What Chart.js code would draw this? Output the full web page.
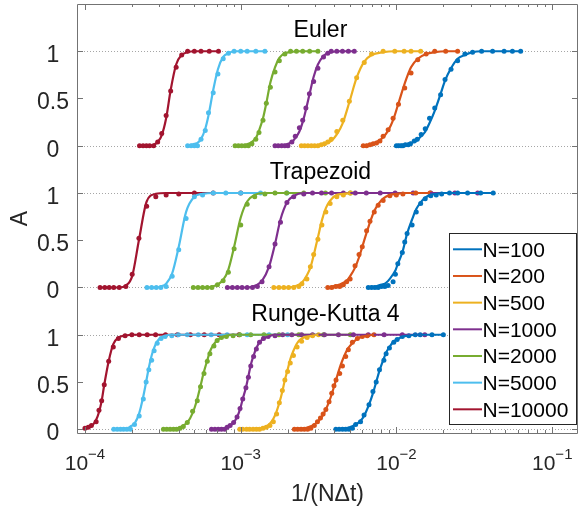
<!DOCTYPE html>
<html>
<head>
<meta charset="utf-8">
<script src="https://cdn.jsdelivr.net/npm/chart.js@4.4.0/dist/chart.umd.min.js"></script>
<style>
  html, body { margin: 0; padding: 0; background: #fff; }
</style>
</head>
<body>
<canvas id="chart" width="581" height="512"></canvas>
<script>
// series order: N=100 ... N=10000
const seriesLabels = ['N=100', 'N=200', 'N=500', 'N=1000', 'N=2000', 'N=5000', 'N=10000'];
const seriesColors = ['#0072BD', '#D95319', '#EDB120', '#7E2F8E', '#77AC30', '#4DBEEE', '#A2142F'];

const panelTitles = ['Euler', 'Trapezoid', 'Runge-Kutta 4'];
const yTickLabels = ['0', '0.5', '1'];
const xDecades = [-4, -3, -2, -1];

// Euler: x = 1/(N dt); *A = markers, *Line = fitted curve at the same x
const eulerX = [
    [9.98e-3, 1.03e-2, 1.07e-2, 1.10e-2, 1.14e-2, 1.19e-2, 1.23e-2, 1.30e-2, 1.36e-2, 1.44e-2, 1.53e-2, 1.63e-2, 1.76e-2, 1.92e-2, 2.05e-2, 2.24e-2, 2.47e-2, 2.75e-2, 3.08e-2, 3.52e-2, 4.14e-2, 4.91e-2, 5.55e-2, 6.27e-2],
    [6.12e-3, 6.43e-3, 6.76e-3, 7.09e-3, 7.44e-3, 7.83e-3, 8.21e-3, 8.84e-3, 9.51e-3, 1.03e-2, 1.13e-2, 1.24e-2, 1.37e-2, 1.55e-2, 1.76e-2, 2.07e-2, 2.47e-2],
    [2.45e-3, 2.57e-3, 2.70e-3, 2.84e-3, 2.98e-3, 3.13e-3, 3.29e-3, 3.45e-3, 3.62e-3, 3.81e-3, 4.14e-3, 4.52e-3, 4.98e-3, 5.55e-3, 6.21e-3, 6.92e-3, 8.21e-3, 9.75e-3, 1.12e-2, 1.24e-2, 1.43e-2],
    [1.66e-3, 1.74e-3, 1.83e-3, 1.92e-3, 2.01e-3, 2.13e-3, 2.24e-3, 2.38e-3, 2.50e-3, 2.62e-3, 2.76e-3, 2.94e-3, 3.13e-3, 3.40e-3, 3.62e-3, 3.81e-3, 4.14e-3, 4.50e-3, 4.91e-3, 5.36e-3],
    [9.2e-4, 9.66e-4, 1.015e-3, 1.065e-3, 1.12e-3, 1.18e-3, 1.25e-3, 1.31e-3, 1.39e-3, 1.46e-3, 1.55e-3, 1.66e-3, 1.77e-3, 1.92e-3, 2.09e-3, 2.28e-3, 2.50e-3, 2.77e-3, 3.13e-3],
    [4.56e-4, 4.8e-4, 5.04e-4, 5.28e-4, 5.56e-4, 5.92e-4, 6.21e-4, 6.66e-4, 7.14e-4, 7.72e-4, 8.34e-4, 9.07e-4, 1.0e-3, 1.1e-3, 1.25e-3, 1.43e-3],
    [2.24e-4, 2.36e-4, 2.48e-4, 2.6e-4, 2.76e-4, 2.93e-4, 3.11e-4, 3.32e-4, 3.55e-4, 3.85e-4, 4.18e-4, 4.56e-4, 5.04e-4, 5.56e-4, 6.28e-4, 7.2e-4]
];
const eulerA = [
    [0, 0, 0, 0, 0.01, 0.01, 0.02, 0.05, 0.07, 0.12, 0.18, 0.29, 0.4, 0.54, 0.7, 0.81, 0.9, 0.97, 0.99, 1, 1, 1, 1, 1],
    [0, 0, 0.01, 0.02, 0.03, 0.05, 0.1, 0.17, 0.29, 0.44, 0.61, 0.77, 0.91, 0.97, 1, 1, 1],
    [0, 0, 0, 0, 0, 0, 0.01, 0.02, 0.04, 0.07, 0.15, 0.27, 0.47, 0.72, 0.88, 0.97, 1, 1, 1, 1, 1],
    [0, 0, 0, 0, 0, 0.04, 0.1, 0.19, 0.27, 0.4, 0.55, 0.68, 0.82, 0.94, 0.98, 1, 1, 1, 1, 1],
    [0, 0, 0, 0, 0, 0.02, 0.07, 0.14, 0.27, 0.45, 0.62, 0.78, 0.9, 0.97, 1, 1, 1, 1, 1],
    [0, 0, 0, 0, 0.07, 0.16, 0.35, 0.56, 0.76, 0.92, 0.98, 1, 1, 1, 1, 1],
    [0, 0, 0, 0, 0, 0.04, 0.13, 0.32, 0.58, 0.83, 0.96, 1, 1, 1, 1, 1]
];
const eulerLine = [
    [0, 0.01, 0.01, 0.01, 0.01, 0.02, 0.03, 0.04, 0.06, 0.1, 0.15, 0.24, 0.37, 0.55, 0.69, 0.82, 0.92, 0.96, 0.99, 1, 1, 1, 1, 1],
    [0, 0.01, 0.01, 0.02, 0.04, 0.06, 0.09, 0.16, 0.27, 0.45, 0.66, 0.83, 0.92, 0.97, 0.99, 1, 1],
    [0, 0, 0, 0, 0, 0.01, 0.01, 0.02, 0.03, 0.05, 0.12, 0.24, 0.46, 0.72, 0.89, 0.96, 0.99, 1, 1, 1, 1],
    [0, 0, 0.01, 0.01, 0.02, 0.04, 0.08, 0.15, 0.25, 0.38, 0.54, 0.73, 0.86, 0.95, 0.98, 0.99, 1, 1, 1, 1],
    [0, 0, 0, 0.01, 0.02, 0.04, 0.08, 0.16, 0.29, 0.45, 0.67, 0.83, 0.93, 0.98, 0.99, 1, 1, 1, 1],
    [0, 0.01, 0.02, 0.03, 0.07, 0.18, 0.32, 0.59, 0.81, 0.94, 0.98, 1, 1, 1, 1, 1],
    [0, 0, 0, 0, 0.01, 0.04, 0.11, 0.29, 0.59, 0.86, 0.96, 0.99, 1, 1, 1, 1]
];

// Trapezoid
const trapX = [
    [6.59e-3, 6.92e-3, 7.27e-3, 7.63e-3, 8.01e-3, 8.42e-3, 8.84e-3, 9.51e-3, 9.84e-3, 1.02e-2, 1.09e-2, 1.13e-2, 1.17e-2, 1.26e-2, 1.34e-2, 1.43e-2, 1.53e-2, 1.66e-2, 1.80e-2, 1.95e-2, 2.19e-2, 2.47e-2, 2.86e-2, 3.47e-2, 4.18e-2],
    [3.62e-3, 3.84e-3, 4.08e-3, 4.32e-3, 4.56e-3, 4.79e-3, 5.04e-3, 5.42e-3, 5.75e-3, 6.03e-3, 6.43e-3, 6.76e-3, 7.20e-3, 7.63e-3, 8.21e-3, 9.07e-3, 9.98e-3, 1.10e-2, 1.33e-2, 1.64e-2],
    [1.63e-3, 1.76e-3, 1.89e-3, 2.03e-3, 2.19e-3, 2.36e-3, 2.47e-3, 2.66e-3, 2.80e-3, 2.94e-3, 3.13e-3, 3.32e-3, 3.52e-3, 3.75e-3, 4.14e-3, 4.56e-3, 5.06e-3],
    [8.21e-4, 8.84e-4, 9.51e-4, 1.02e-3, 1.10e-3, 1.19e-3, 1.28e-3, 1.37e-3, 1.52e-3, 1.66e-3, 1.80e-3, 1.98e-3, 2.19e-3, 2.54e-3, 2.89e-3, 3.30e-3, 3.83e-3, 4.56e-3, 5.44e-3, 6.40e-3, 7.86e-3, 9.80e-3, 1.28e-2, 1.66e-2, 2.37e-2, 3.32e-2],
    [4.96e-4, 5.32e-4, 5.69e-4, 6.10e-4, 6.53e-4, 7.09e-4, 7.71e-4, 8.33e-4, 9.07e-4, 1.0e-3, 1.10e-3, 1.23e-3, 1.43e-3, 1.66e-3, 1.97e-3, 2.54e-3, 3.50e-3, 5.06e-3],
    [2.50e-4, 2.68e-4, 2.87e-4, 3.07e-4, 3.32e-4, 3.63e-4, 4.0e-4, 4.46e-4, 5.04e-4, 5.69e-4, 6.66e-4, 8.02e-4, 1.0e-3, 1.34e-3, 1.98e-3],
    [1.25e-4, 1.34e-4, 1.43e-4, 1.53e-4, 1.66e-4, 1.83e-4, 2.01e-4, 2.22e-4, 2.49e-4, 2.85e-4, 3.32e-4, 4.0e-4, 5.04e-4, 6.66e-4, 1.0e-3]
];
const trapA = [
    [0, 0, 0, 0, 0.01, 0.01, 0.02, 0.06, 0.14, 0.25, 0.37, 0.48, 0.57, 0.66, 0.8, 0.89, 0.94, 0.97, 0.98, 0.99, 1, 1, 1, 1, 1],
    [0, 0, 0.01, 0.01, 0.03, 0.06, 0.09, 0.23, 0.35, 0.43, 0.6, 0.7, 0.8, 0.87, 0.92, 0.97, 0.98, 0.99, 1, 1],
    [0, 0, 0, 0, 0, 0.01, 0.04, 0.09, 0.22, 0.35, 0.51, 0.66, 0.8, 0.89, 0.96, 0.98, 1],
    [0, 0, 0, 0, 0, 0, 0.01, 0.06, 0.22, 0.46, 0.69, 0.9, 0.96, 0.99, 1, 1, 1, 1, 1, 1, 1, 1, 1, 1, 1, 1],
    [0, 0, 0, 0, 0, 0.03, 0.07, 0.16, 0.41, 0.66, 0.88, 0.96, 0.99, 1, 1, 1, 1, 1],
    [0, 0, 0, 0, 0.01, 0.12, 0.4, 0.73, 0.96, 0.98, 1, 1, 1, 1, 1],
    [0, 0, 0, 0, 0, 0.01, 0.14, 0.52, 0.86, 0.96, 0.98, 0.99, 1, 1, 1]
];
const trapLine = [
    [0, 0.01, 0.01, 0.02, 0.03, 0.04, 0.07, 0.14, 0.18, 0.25, 0.37, 0.47, 0.57, 0.72, 0.83, 0.9, 0.95, 0.98, 0.99, 1, 1, 1, 1, 1, 1],
    [0, 0.01, 0.02, 0.03, 0.05, 0.07, 0.12, 0.21, 0.32, 0.43, 0.58, 0.69, 0.81, 0.88, 0.94, 0.98, 0.99, 1, 1, 1],
    [0, 0, 0, 0, 0.01, 0.03, 0.05, 0.13, 0.21, 0.34, 0.53, 0.71, 0.84, 0.92, 0.98, 0.99, 1],
    [0, 0, 0, 0, 0, 0.01, 0.03, 0.07, 0.22, 0.46, 0.72, 0.9, 0.97, 1, 1, 1, 1, 1, 1, 1, 1, 1, 1, 1, 1, 1],
    [0, 0, 0, 0, 0.01, 0.03, 0.08, 0.19, 0.43, 0.74, 0.91, 0.98, 1, 1, 1, 1, 1, 1],
    [0, 0, 0, 0.01, 0.04, 0.15, 0.43, 0.8, 0.96, 0.99, 1, 1, 1, 1, 1],
    [0, 0, 0, 0, 0, 0.02, 0.12, 0.5, 0.91, 0.99, 1, 1, 1, 1, 1]
];

// Runge-Kutta 4
const rk4X = [
    [4.08e-3, 4.28e-3, 4.50e-3, 4.72e-3, 4.96e-3, 5.21e-3, 5.47e-3, 5.88e-3, 6.19e-3, 6.66e-3, 7.06e-3, 7.41e-3, 7.78e-3, 8.30e-3, 8.58e-3, 9.01e-3, 9.61e-3, 1.01e-2, 1.09e-2, 1.20e-2, 1.32e-2, 1.42e-2, 1.69e-2, 2.00e-2],
    [2.21e-3, 2.32e-3, 2.44e-3, 2.56e-3, 2.69e-3, 2.82e-3, 2.97e-3, 3.11e-3, 3.25e-3, 3.38e-3, 3.52e-3, 3.69e-3, 3.84e-3, 3.97e-3, 4.09e-3, 4.32e-3, 4.50e-3, 4.72e-3, 4.91e-3, 5.21e-3, 5.61e-3, 6.03e-3, 6.49e-3, 7.17e-3],
    [9.86e-4, 1.03e-3, 1.09e-3, 1.14e-3, 1.20e-3, 1.26e-3, 1.32e-3, 1.39e-3, 1.46e-3, 1.54e-3, 1.62e-3, 1.70e-3, 1.77e-3, 1.85e-3, 1.92e-3, 2.0e-3, 2.08e-3, 2.18e-3, 2.30e-3, 2.46e-3, 2.67e-3, 2.89e-3, 3.16e-3],
    [6.49e-4, 6.83e-4, 7.17e-4, 7.52e-4, 7.91e-4, 8.18e-4, 8.55e-4, 9.0e-4, 9.47e-4, 9.90e-4, 1.03e-3, 1.08e-3, 1.12e-3, 1.16e-3, 1.21e-3, 1.26e-3, 1.32e-3, 1.40e-3, 1.50e-3, 1.66e-3, 1.86e-3, 2.13e-3, 2.46e-3, 2.89e-3, 3.45e-3, 4.24e-3, 5.29e-3, 6.59e-3, 8.33e-3, 1.09e-2, 1.52e-2],
    [3.19e-4, 3.35e-4, 3.52e-4, 3.70e-4, 3.88e-4, 4.08e-4, 4.28e-4, 4.54e-4, 4.91e-4, 5.26e-4, 5.52e-4, 5.81e-4, 6.10e-4, 6.34e-4, 6.73e-4, 7.06e-4, 7.52e-4, 8.09e-4, 8.93e-4, 9.86e-4, 1.16e-3, 1.41e-3, 1.76e-3, 2.36e-3, 3.40e-3, 5.06e-3],
    [1.53e-4, 1.61e-4, 1.69e-4, 1.77e-4, 1.86e-4, 1.96e-4, 2.08e-4, 2.23e-4, 2.37e-4, 2.47e-4, 2.57e-4, 2.68e-4, 2.78e-4, 2.91e-4, 3.08e-4, 3.27e-4, 3.61e-4, 3.98e-4, 4.54e-4, 5.34e-4, 6.46e-4, 8.18e-4, 1.10e-3, 1.52e-3, 2.0e-3],
    [1.0e-4, 1.05e-4, 1.10e-4, 1.18e-4, 1.23e-4, 1.28e-4, 1.33e-4, 1.42e-4, 1.52e-4, 1.64e-4, 1.81e-4, 2.0e-4, 2.23e-4, 2.51e-4, 2.84e-4, 3.29e-4, 3.92e-4, 4.75e-4, 5.83e-4, 7.27e-4, 9.75e-4]
];
const rk4A = [
    [0, 0, 0, 0, 0, 0.01, 0.05, 0.08, 0.15, 0.26, 0.4, 0.5, 0.63, 0.73, 0.8, 0.86, 0.92, 0.95, 0.98, 0.99, 1, 1, 1, 1],
    [0, 0, 0, 0, 0, 0.01, 0.04, 0.08, 0.12, 0.16, 0.21, 0.29, 0.38, 0.46, 0.52, 0.59, 0.67, 0.77, 0.84, 0.92, 0.96, 0.98, 0.99, 1],
    [0, 0, 0, 0, 0, 0, 0, 0.01, 0.02, 0.04, 0.08, 0.16, 0.28, 0.41, 0.52, 0.61, 0.7, 0.78, 0.87, 0.93, 0.97, 0.99, 1],
    [0, 0, 0, 0, 0, 0.02, 0.04, 0.07, 0.13, 0.22, 0.32, 0.44, 0.55, 0.67, 0.77, 0.85, 0.92, 0.96, 0.98, 0.99, 1, 1, 1, 1, 1, 1, 1, 1, 1, 1, 1],
    [0, 0, 0, 0, 0, 0.01, 0.03, 0.07, 0.19, 0.3, 0.45, 0.59, 0.72, 0.8, 0.88, 0.94, 0.97, 0.98, 0.99, 1, 1, 1, 1, 1, 1, 1],
    [0, 0, 0, 0, 0, 0, 0.05, 0.14, 0.32, 0.5, 0.63, 0.73, 0.83, 0.91, 0.96, 0.98, 0.99, 1, 1, 1, 1, 1, 1, 1, 1],
    [0.01, 0.02, 0.04, 0.08, 0.2, 0.3, 0.47, 0.72, 0.87, 0.96, 0.99, 1, 1, 1, 1, 1, 1, 1, 1, 1, 1]
];
const rk4Line = [
    [0, 0, 0.01, 0.01, 0.02, 0.03, 0.05, 0.09, 0.14, 0.26, 0.38, 0.5, 0.62, 0.75, 0.81, 0.87, 0.93, 0.95, 0.98, 0.99, 1, 1, 1, 1],
    [0, 0.01, 0.01, 0.01, 0.02, 0.03, 0.05, 0.08, 0.11, 0.15, 0.21, 0.29, 0.37, 0.45, 0.52, 0.65, 0.73, 0.81, 0.86, 0.91, 0.96, 0.98, 0.99, 1],
    [0, 0, 0, 0, 0, 0.01, 0.01, 0.02, 0.03, 0.06, 0.11, 0.19, 0.28, 0.4, 0.52, 0.63, 0.74, 0.83, 0.91, 0.96, 0.98, 0.99, 1],
    [0, 0, 0, 0.01, 0.01, 0.02, 0.04, 0.07, 0.13, 0.21, 0.32, 0.44, 0.56, 0.68, 0.78, 0.86, 0.92, 0.96, 0.98, 1, 1, 1, 1, 1, 1, 1, 1, 1, 1, 1, 1],
    [0, 0, 0, 0.01, 0.01, 0.02, 0.04, 0.07, 0.17, 0.32, 0.46, 0.61, 0.73, 0.82, 0.9, 0.94, 0.97, 0.99, 1, 1, 1, 1, 1, 1, 1, 1],
    [0, 0, 0, 0.01, 0.01, 0.03, 0.06, 0.17, 0.35, 0.5, 0.65, 0.78, 0.86, 0.93, 0.97, 0.99, 1, 1, 1, 1, 1, 1, 1, 1, 1],
    [0.01, 0.02, 0.03, 0.1, 0.18, 0.3, 0.47, 0.72, 0.9, 0.97, 0.99, 1, 1, 1, 1, 1, 1, 1, 1, 1, 1]
];

// the three panels share one axes, stacked by a vertical offset
const panels = [
    { xs: eulerX, dots: eulerA, curve: eulerLine, offset: 3, titleX: 3.25e-3 },
    { xs: trapX, dots: trapA, curve: trapLine, offset: 1.5, titleX: 3.25e-3 },
    { xs: rk4X, dots: rk4A, curve: rk4Line, offset: 0, titleX: 3.5e-3 }
];

const FONT = '"Liberation Sans", Arial, Helvetica, sans-serif';
const TEXT_COLOR = '#262626';
const AXIS_COLOR = '#737373';

function buildDatasets() {
    const lines = [];
    const markers = [];
    panels.forEach(p => {
        p.xs.forEach((xs, i) => {
            lines.push({
                data: xs.map((x, k) => ({ x: x, y: p.curve[i][k] + p.offset })),
                showLine: true,
                borderColor: seriesColors[i],
                borderWidth: 2.2,
                pointRadius: 0,
                cubicInterpolationMode: 'monotone',
                fill: false
            });
            markers.push({
                data: xs.map((x, k) => ({ x: x, y: p.dots[i][k] + p.offset })),
                showLine: false,
                pointRadius: 2.5,
                pointBorderWidth: 0,
                pointBackgroundColor: seriesColors[i],
                backgroundColor: seriesColors[i]
            });
        });
    });
    // all lines first, markers on top
    return lines.concat(markers);
}

// MATLAB style frame, ticks, labels, titles and legend
const matlabAxes = {
    id: 'matlabAxes',
    beforeDraw(chart) {
        const ctx = chart.ctx;
        ctx.save();
        ctx.fillStyle = '#fff';
        ctx.fillRect(0, 0, chart.width, chart.height);
        ctx.restore();
    },
    beforeDatasetsDraw(chart) {
        const { ctx, chartArea: a, scales: { y } } = chart;
        ctx.save();
        ctx.strokeStyle = '#a6a6a6';
        ctx.lineWidth = 1;
        ctx.setLineDash([1, 2]);
        panels.forEach(p => {
            [0, 1].forEach(v => {
                const py = Math.round(y.getPixelForValue(v + p.offset)) + 0.5;
                ctx.beginPath();
                ctx.moveTo(a.left, py);
                ctx.lineTo(a.right, py);
                ctx.stroke();
            });
        });
        ctx.restore();
    },
    afterDatasetsDraw(chart) {
        const { ctx, chartArea: a, scales: { x, y } } = chart;
        ctx.save();

        // titles inside each panel
        ctx.fillStyle = '#000';
        ctx.font = '23px ' + FONT;
        ctx.textAlign = 'center';
        ctx.textBaseline = 'alphabetic';
        panels.forEach((p, i) => {
            ctx.fillText(panelTitles[i], x.getPixelForValue(p.titleX), y.getPixelForValue(p.offset + 1.15));
        });

        // box
        ctx.strokeStyle = AXIS_COLOR;
        ctx.lineWidth = 1;
        ctx.beginPath();
        ctx.moveTo(a.left - 0.5, a.top + 0.5);
        ctx.lineTo(a.right + 0.5, a.top + 0.5);
        ctx.lineTo(a.right + 0.5, a.bottom + 0.5);
        ctx.lineTo(a.left - 0.5, a.bottom + 0.5);
        ctx.closePath();
        ctx.stroke();

        // y ticks + labels
        ctx.fillStyle = TEXT_COLOR;
        ctx.font = '23px ' + FONT;
        ctx.textAlign = 'center';
        panels.forEach(p => {
            [0, 0.5, 1].forEach((v, k) => {
                const py = Math.round(y.getPixelForValue(v + p.offset)) + 0.5;
                ctx.beginPath();
                ctx.moveTo(a.left, py);
                ctx.lineTo(a.left + 5, py);
                ctx.moveTo(a.right, py);
                ctx.lineTo(a.right - 5, py);
                ctx.stroke();
                ctx.fillText(yTickLabels[k], 53, py + 10);
            });
        });

        // x ticks (log, minor 2..9)
        xDecades.concat([-5]).forEach(e => {
            for (let k = 1; k <= 9; k++) {
                const v = k * Math.pow(10, e);
                if (v < x.min || v > x.max) continue;
                const px = Math.round(x.getPixelForValue(v)) + 0.5;
                const len = k === 1 ? 6 : 3;
                ctx.beginPath();
                ctx.moveTo(px, a.bottom);
                ctx.lineTo(px, a.bottom - len);
                ctx.moveTo(px, a.top);
                ctx.lineTo(px, a.top + len);
                ctx.stroke();
            }
        });

        // x tick labels 10^e
        ctx.textAlign = 'left';
        xDecades.forEach(e => {
            const px = x.getPixelForValue(Math.pow(10, e));
            const sup = '\u2212' + Math.abs(e);
            ctx.font = '21px ' + FONT;
            const w1 = ctx.measureText('10').width;
            ctx.font = '15px ' + FONT;
            const w2 = ctx.measureText(sup).width;
            const x0 = px - (w1 + w2) / 2;
            ctx.font = '21px ' + FONT;
            ctx.fillText('10', x0, 470);
            ctx.font = '15px ' + FONT;
            ctx.fillText(sup, x0 + w1, 459);
        });

        // axis labels
        ctx.font = '23px ' + FONT;
        ctx.textAlign = 'center';
        ctx.fillText('1/(N\u0394t)', (a.left + a.right) / 2, 501);
        ctx.save();
        ctx.translate(27, (a.top + a.bottom) / 2);
        ctx.rotate(-Math.PI / 2);
        ctx.fillText('A', 0, 0);
        ctx.restore();

        // legend box
        const lx = 449.5, ly = 233.5, lw = 127, lh = 191;
        ctx.fillStyle = '#fff';
        ctx.fillRect(lx, ly, lw, lh);
        ctx.strokeStyle = '#262626';
        ctx.strokeRect(lx, ly, lw, lh);
        ctx.font = '21px ' + FONT;
        ctx.textAlign = 'left';
        seriesLabels.forEach((lab, i) => {
            const cy = 249.3 + i * 26.67;
            ctx.strokeStyle = seriesColors[i];
            ctx.lineWidth = 2;
            ctx.beginPath();
            ctx.moveTo(453, cy);
            ctx.lineTo(482, cy);
            ctx.stroke();
            ctx.fillStyle = '#000';
            ctx.fillText(lab, 482.5, cy + 7.5);
        });

        ctx.restore();
    }
};

const chart = new Chart(document.getElementById('chart').getContext('2d'), {
    type: 'scatter',
    data: { datasets: buildDatasets() },
    options: {
        responsive: false,
        animation: false,
        layout: { padding: { left: 78, right: 1, top: 4, bottom: 79 } },
        scales: {
            x: { type: 'logarithmic', display: false, min: 9.022e-5, max: 0.1442, bounds: 'data' },
            y: { type: 'linear', display: false, min: -0.04, max: 4.5 }
        },
        plugins: {
            legend: { display: false },
            tooltip: { enabled: false }
        }
    },
    plugins: [matlabAxes]
});
</script>
</body>
</html>
